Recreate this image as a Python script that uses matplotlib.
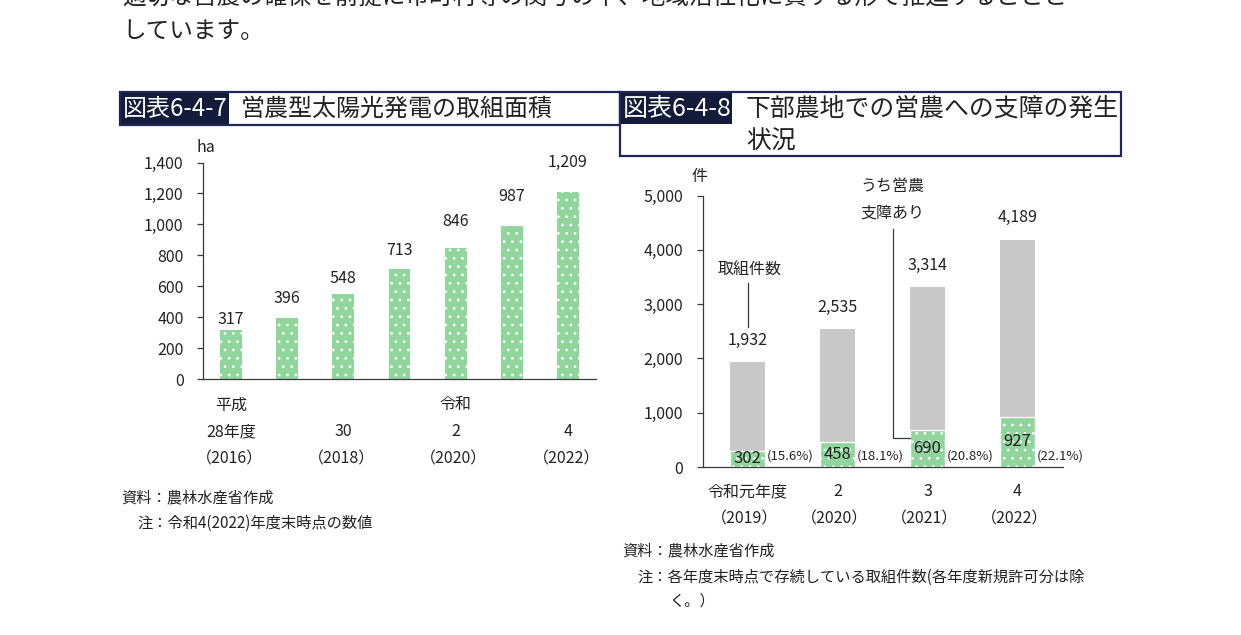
import matplotlib
matplotlib.use("Agg")
import matplotlib.pyplot as plt
from matplotlib.patches import Rectangle
from matplotlib.lines import Line2D
import matplotlib.transforms as mtransforms
from matplotlib.ticker import FuncFormatter

plt.rcParams['font.family'] = ['Noto Sans CJK JP', 'DejaVu Sans']
plt.rcParams['hatch.linewidth'] = 0.8

# ---------------- data ----------------
area_years = ['2016', '2017', '2018', '2019', '2020', '2021', '2022']
area_values = [317, 396, 548, 713, 846, 987, 1209]
area_tick_idx = [0, 2, 4, 6]
area_era = ['平成', '', '令和', '']
area_fy = ['28年度', '30', '2', '4']
area_ce = ['（2016）', '（2018）', '（2020）', '（2022）']
area_yticks = [0, 200, 400, 600, 800, 1000, 1200, 1400]

count_years = ['2019', '2020', '2021', '2022']
total_counts = [1932, 2535, 3314, 4189]
affected_counts = [302, 458, 690, 927]
affected_pct = [15.6, 18.1, 20.8, 22.1]
count_fy = ['令和元年度', '2', '3', '4']
count_ce = ['（2019）', '（2020）', '（2021）', '（2022）']
count_yticks = [0, 1000, 2000, 3000, 4000, 5000]

# label offsets above bars (px) for left chart, as in the original layout
area_label_offset_px = [10, 19, 16, 18, 27, 30, 30]

W, H = 1241, 635
fig = plt.figure(figsize=(W / 100, H / 100), dpi=100)
fig.patch.set_facecolor('white')

def P(x, y):
    return (x / W, 1 - y / H)

def rect(l, t, r, b):
    return [l / W, 1 - b / H, (r - l) / W, (b - t) / H]

TXT = '#222222'
GREEN = '#90d59c'
GRAY = '#c8c8c8'
NAVY = '#1f2756'
DARK = '#151b3a'
SPINE = '#3a3a3a'
FS = 11.5
HATCH = '..'

# ---------------- body text (cut at top) ----------------
fig.text(*P(122, -3), '適切な営農の確保を前提に市町村等の関与の下、地域活性化に資する形で推進することと',
         fontsize=17, color=TXT, va='center', ha='left')
fig.text(*P(122, 32), 'しています。', fontsize=17, color=TXT, va='center', ha='left')

# ---------------- title boxes ----------------
fig.patches.append(Rectangle(P(120, 125), 500 / W, 33 / H, transform=fig.transFigure,
                             fill=False, edgecolor=NAVY, linewidth=1.6))
fig.patches.append(Rectangle(P(121, 124), 108 / W, 31 / H, transform=fig.transFigure,
                             facecolor=DARK, edgecolor='none'))
fig.text(*P(123, 109), '図表6-4-7', fontsize=17.3, color='white', va='center', ha='left')
fig.text(*P(241, 109), '営農型太陽光発電の取組面積', fontsize=17.3, color=TXT, va='center', ha='left')

fig.patches.append(Rectangle(P(620, 156), 501 / W, 64 / H, transform=fig.transFigure,
                             fill=False, edgecolor=NAVY, linewidth=1.6))
fig.patches.append(Rectangle(P(621, 124), 111 / W, 31 / H, transform=fig.transFigure,
                             facecolor=DARK, edgecolor='none'))
fig.text(*P(623, 109), '図表6-4-8', fontsize=18, color='white', va='center', ha='left')
fig.text(*P(746, 109), '下部農地での営農への支障の発生', fontsize=17.9, color=TXT, va='center', ha='left')
fig.text(*P(746, 142), '状況', fontsize=17.9, color=TXT, va='center', ha='left')

def style_axes(ax):
    for s in ['top', 'right']:
        ax.spines[s].set_visible(False)
    for s in ['left', 'bottom']:
        ax.spines[s].set_color(SPINE)
        ax.spines[s].set_linewidth(0.9)
    ax.tick_params(axis='y', direction='out', length=4, width=0.9, color=SPINE,
                   labelsize=FS, labelcolor=TXT, pad=10)
    ax.tick_params(axis='x', length=0, labelbottom=False)
    ax.yaxis.set_major_formatter(FuncFormatter(lambda v, p: f'{int(v):,}'))
    ax.set_facecolor('none')

# ---------------- left chart ----------------
ax1 = fig.add_axes(rect(203, 162.5, 596, 379))
style_axes(ax1)
x1 = list(range(len(area_years)))
ax1.bar(x1, area_values, width=0.39, color=GREEN, edgecolor='white', linewidth=0, hatch=HATCH)
ax1.set_xlim(-0.5, len(area_years) - 0.5)
ax1.set_ylim(0, 1400)
ax1.set_yticks(area_yticks)
for xi, v, off in zip(x1, area_values, area_label_offset_px):
    ax1.annotate(f'{v:,}', xy=(xi, v), xytext=(0, off * 0.72), textcoords='offset points',
                 ha='center', va='center', fontsize=FS, color=TXT)
tr1 = mtransforms.blended_transform_factory(ax1.transData, fig.transFigure)
for i, era, fy, ce in zip(area_tick_idx, area_era, area_fy, area_ce):
    if era:
        ax1.text(i, 1 - 405 / H, era, transform=tr1, ha='center', va='center', fontsize=FS, color=TXT)
    ax1.text(i, 1 - 432 / H, fy, transform=tr1, ha='center', va='center', fontsize=FS, color=TXT)
    ax1.text(i - 0.03, 1 - 459 / H, ce, transform=tr1, ha='center', va='center', fontsize=FS, color=TXT)
fig.text(*P(196, 147), 'ha', fontsize=FS, color=TXT, va='center', ha='left')

fig.text(*P(121, 498), '資料：農林水産省作成', fontsize=11, color=TXT, va='center', ha='left')
fig.text(*P(137, 523), '注：令和4(2022)年度末時点の数値', fontsize=11, color=TXT, va='center', ha='left')

# ---------------- right chart ----------------
ax2 = fig.add_axes(rect(702.5, 195.5, 1062.5, 467))
style_axes(ax2)
x2 = list(range(len(count_years)))
bw = 0.39
rest = [t - a for t, a in zip(total_counts, affected_counts)]
ax2.bar(x2, rest, bottom=affected_counts, width=bw, color=GRAY, edgecolor='none')
ax2.bar(x2, affected_counts, width=bw, color=GREEN, edgecolor='white', linewidth=1.0, hatch=HATCH)
ax2.set_xlim(-0.5, len(count_years) - 0.5)
ax2.set_ylim(0, 5000)
ax2.set_yticks(count_yticks)
for xi, t, a, pc in zip(x2, total_counts, affected_counts, affected_pct):
    ax2.annotate(f'{t:,}', xy=(xi, t), xytext=(0, 22 * 0.72), textcoords='offset points',
                 ha='center', va='center', fontsize=FS, color=TXT)
    ax2.text(xi, a / 2, f'{a:,}', ha='center', va='center', fontsize=FS + 0.5, color=TXT)
    ax2.annotate(f'({pc:.1f}%)', xy=(xi + bw / 2, 0), xytext=(1, 11 * 0.72),
                 textcoords='offset points', ha='left', va='center', fontsize=9.5, color=TXT,
                 annotation_clip=False)
tr2 = mtransforms.blended_transform_factory(ax2.transData, fig.transFigure)
for i, (fy, ce) in enumerate(zip(count_fy, count_ce)):
    ax2.text(i, 1 - 492 / H, fy, transform=tr2, ha='center', va='center', fontsize=FS, color=TXT)
    ax2.text(i - 0.03, 1 - 519 / H, ce, transform=tr2, ha='center', va='center', fontsize=FS, color=TXT)
fig.text(*P(692, 177), '件', fontsize=FS, color=TXT, va='center', ha='left')

# annotations: 取組件数
ax2.text(0.02, 3630, '取組件数', ha='center', va='center', fontsize=FS, color=TXT)
ax2.add_line(Line2D([0, 0], [3389, 2584], color=SPINE, linewidth=0.9))
# うち営農支障あり
ax2.text(1.61, 5170, 'うち営農', ha='center', va='center', fontsize=FS, color=TXT, clip_on=False)
ax2.text(1.61, 4680, '支障あり', ha='center', va='center', fontsize=FS, color=TXT, clip_on=False)
ax2.add_line(Line2D([1.613, 1.613, 2 - bw / 2], [4383, 534, 534], color=SPINE, linewidth=0.9))

fig.text(*P(622, 551), '資料：農林水産省作成', fontsize=11, color=TXT, va='center', ha='left')
fig.text(*P(637, 577), '注：各年度末時点で存続している取組件数(各年度新規許可分は除', fontsize=11,
         color=TXT, va='center', ha='left')
fig.text(*P(669, 601), 'く。）', fontsize=11, color=TXT, va='center', ha='left')

fig.savefig('out.png', dpi=100, facecolor='white')
